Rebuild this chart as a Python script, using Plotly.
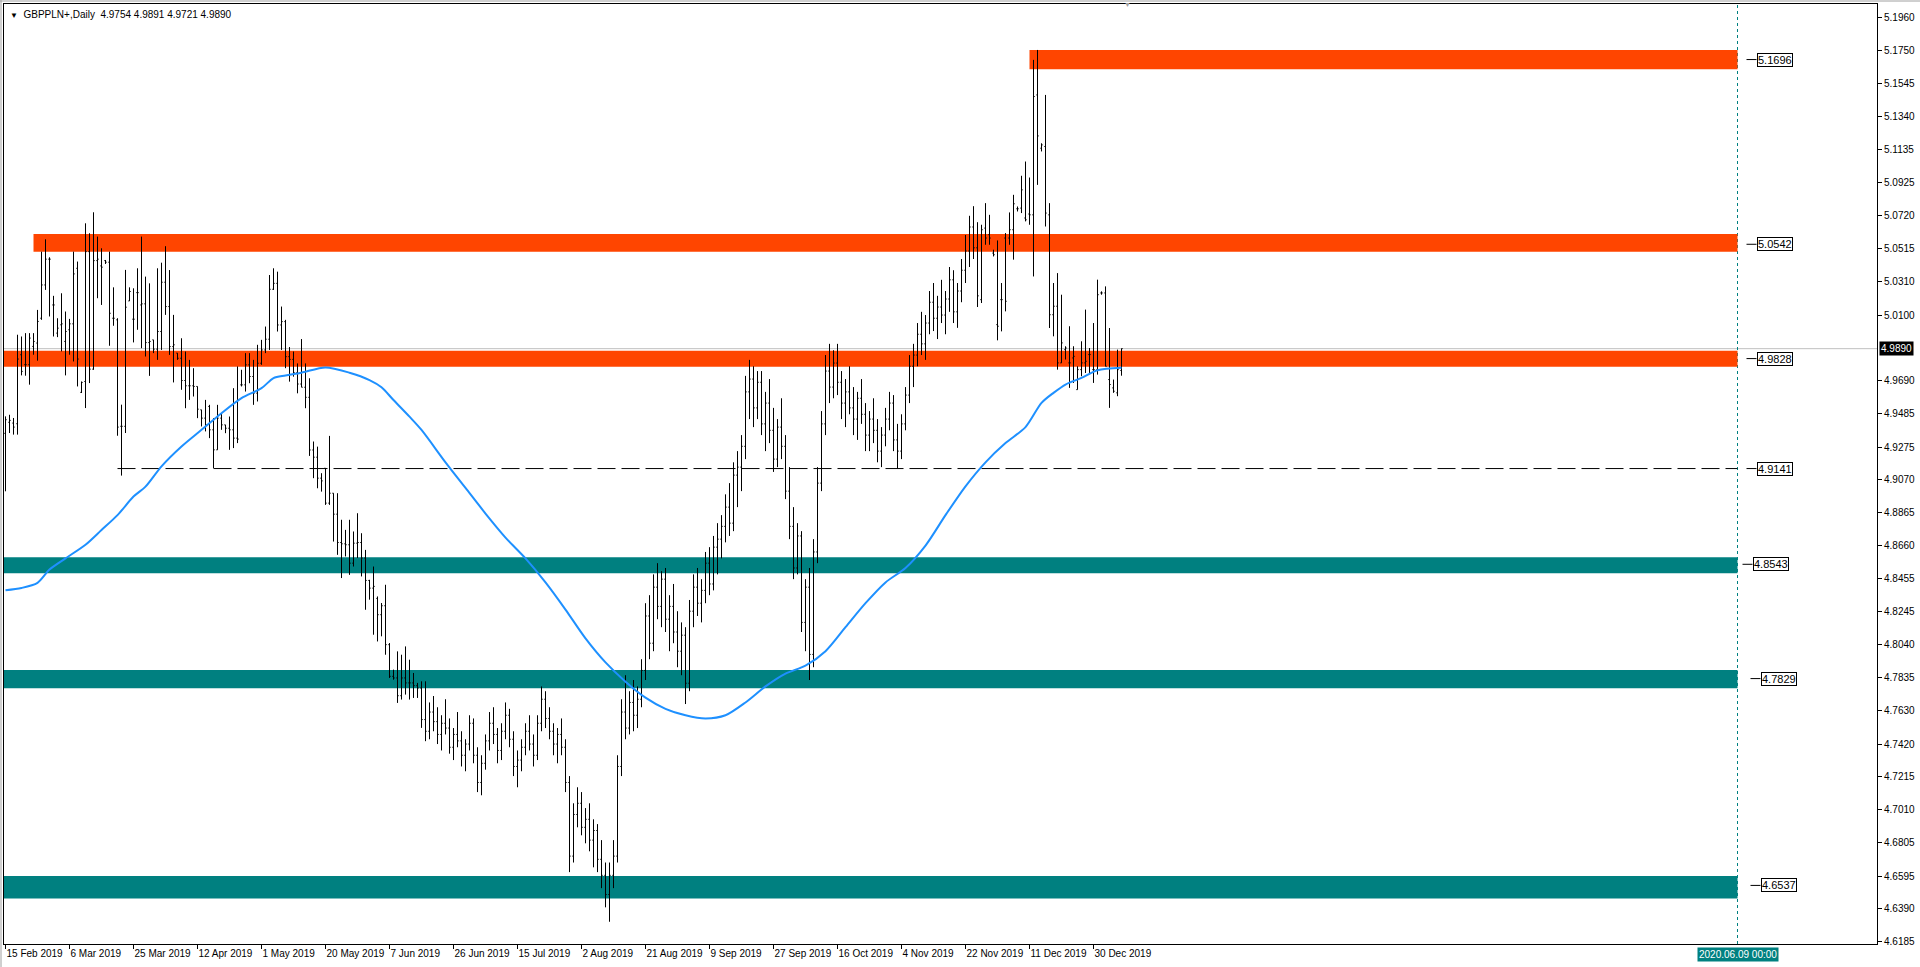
import plotly.graph_objects as go

# ---------------- data ----------------
bar_open = [
    4.9361, 4.9430, 4.9425, 4.9421, 4.9852, 4.9790, 4.9790, 4.9904, 4.9925, 5.0080,
    5.0288, 5.0449, 5.0163, 4.9987, 5.0039, 4.9935, 5.0008, 5.0045, 5.0392, 4.9617,
    4.9685, 5.0496, 4.9762, 5.0440, 5.0407, 5.0440, 5.0430, 5.0080, 5.0070, 4.9405,
    4.9405, 5.0188, 5.0074, 5.0240, 5.0163, 5.0170, 4.9928, 4.9945, 4.9887, 4.9997,
    5.0305, 5.0153, 4.9903, 4.9862, 4.9830, 4.9691, 4.9658, 4.9658, 4.9654, 4.9508,
    4.9456, 4.9529, 4.9383, 4.9258, 4.9456, 4.9414, 4.9393, 4.9383, 4.9331, 4.9664,
    4.9664, 4.9789, 4.9716, 4.9612, 4.9799, 4.9882, 4.9949, 5.0261, 5.0298, 5.0038,
    5.0059, 4.9840, 4.9823, 4.9740, 4.9669, 4.9649, 4.9586, 4.9257, 4.9212, 4.9081,
    4.9143, 4.8925, 4.8987, 4.8856, 4.8679, 4.8671, 4.8665, 4.8550, 4.8675, 4.8679,
    4.8582, 4.8442, 4.8394, 4.8330, 4.8228, 4.8284, 4.8041, 4.7843, 4.7833, 4.7722,
    4.7833, 4.7802, 4.7802, 4.7785, 4.7770, 4.7573, 4.750, 4.762, 4.756, 4.748,
    4.755, 4.752, 4.740, 4.748, 4.744, 4.735, 4.742, 4.755, 4.735, 4.718,
    4.730, 4.744, 4.755, 4.748, 4.738, 4.750, 4.760, 4.745, 4.728, 4.732,
    4.740, 4.750, 4.742, 4.735, 4.755, 4.770, 4.758, 4.750, 4.742, 4.748,
    4.740, 4.718, 4.672, 4.698, 4.705, 4.690, 4.695, 4.682, 4.688, 4.670,
    4.660, 4.648, 4.660, 4.672, 4.728, 4.762, 4.752, 4.768, 4.760, 4.770,
    4.788, 4.822, 4.805, 4.840, 4.828, 4.845, 4.820, 4.828, 4.812, 4.800,
    4.810, 4.780, 4.825, 4.840, 4.830, 4.838, 4.855, 4.842, 4.865, 4.870,
    4.878, 4.890, 4.880, 4.910, 4.915, 4.928, 4.962, 4.970, 4.952, 4.968,
    4.942, 4.955, 4.938, 4.920, 4.940, 4.928, 4.900, 4.878, 4.852, 4.872,
    4.818, 4.840, 4.798, 4.862, 4.905, 4.942, 4.975, 4.965, 4.980, 4.968,
    4.955, 4.962, 4.952, 4.945, 4.958, 4.948, 4.935, 4.945, 4.938, 4.925,
    4.935, 4.945, 4.955, 4.932, 4.925, 4.942, 4.960, 4.978, 4.985, 4.998,
    4.992, 5.005, 5.018, 5.008, 5.015, 5.010, 5.020, 5.032, 5.012, 5.025,
    5.038, 5.050, 5.065, 5.052, 5.0196, 5.0643, 5.0602, 5.0487, 5.0040, 5.0196,
    5.0581, 5.0581, 5.0633, 5.0764, 5.0768, 5.0706, 5.0731, 5.0726, 5.1475, 5.1142,
    5.1153, 5.0726, 5.0102, 5.0155, 4.9801, 4.9884, 4.9801, 4.9832, 4.9634, 4.9759,
    4.9801, 4.9853, 4.9759, 4.9759, 5.0238, 5.0238, 4.9697, 4.9645, 4.9614, 4.9754,
]
bar_high = [
    4.9467, 4.9477, 4.9457, 4.9977, 4.9966, 4.9987, 4.9987, 4.9987, 5.0132, 5.0496,
    5.0573, 5.0461, 5.0220, 5.0080, 5.0236, 5.0122, 5.0076, 5.0496, 5.0434, 4.9685,
    5.0673, 5.0611, 5.0742, 5.0590, 5.0517, 5.0444, 5.0496, 5.0273, 5.0080, 4.9540,
    5.0382, 5.0273, 5.0267, 5.0392, 5.0590, 5.0340, 5.0298, 4.9945, 5.0392, 5.0427,
    5.0530, 5.0381, 5.0101, 4.9862, 4.9955, 4.9872, 4.9820, 4.9768, 4.9654, 4.9508,
    4.9570, 4.9539, 4.9456, 4.9539, 4.9487, 4.9414, 4.9466, 4.9643, 4.9779, 4.9758,
    4.9862, 4.9862, 4.9820, 4.9914, 4.9945, 5.0028, 5.0350, 5.0392, 5.0371, 5.0153,
    5.0070, 4.9900, 4.9872, 4.9798, 4.9950, 4.9798, 4.9705, 4.9310, 4.9278, 4.9112,
    4.9143, 4.9345, 4.8987, 4.8987, 4.8821, 4.8758, 4.8821, 4.8748, 4.8862, 4.8737,
    4.8633, 4.8446, 4.8529, 4.8342, 4.8301, 4.8415, 4.8051, 4.7885, 4.7999, 4.7978,
    4.8030, 4.7947, 4.7864, 4.7802, 4.7812, 4.7812, 4.768, 4.772, 4.765, 4.760,
    4.770, 4.758, 4.752, 4.762, 4.750, 4.745, 4.760, 4.758, 4.740, 4.735,
    4.748, 4.762, 4.765, 4.752, 4.755, 4.768, 4.764, 4.750, 4.738, 4.745,
    4.755, 4.760, 4.748, 4.760, 4.778, 4.775, 4.765, 4.755, 4.752, 4.758,
    4.745, 4.722, 4.705, 4.715, 4.712, 4.702, 4.705, 4.695, 4.692, 4.682,
    4.668, 4.668, 4.682, 4.735, 4.770, 4.785, 4.775, 4.782, 4.778, 4.795,
    4.830, 4.835, 4.848, 4.855, 4.850, 4.852, 4.835, 4.842, 4.825, 4.818,
    4.815, 4.832, 4.848, 4.852, 4.845, 4.862, 4.865, 4.872, 4.880, 4.885,
    4.898, 4.905, 4.918, 4.925, 4.935, 4.972, 4.982, 4.978, 4.975, 4.975,
    4.962, 4.970, 4.952, 4.945, 4.958, 4.935, 4.915, 4.890, 4.880, 4.875,
    4.845, 4.852, 4.870, 4.915, 4.950, 4.985, 4.992, 4.988, 4.992, 4.975,
    4.970, 4.978, 4.965, 4.962, 4.970, 4.955, 4.950, 4.958, 4.945, 4.940,
    4.952, 4.962, 4.960, 4.942, 4.948, 4.965, 4.985, 4.992, 5.005, 5.012,
    5.010, 5.025, 5.030, 5.022, 5.032, 5.025, 5.040, 5.038, 5.030, 5.045,
    5.060, 5.072, 5.078, 5.068, 5.0664, 5.0799, 5.0726, 5.0508, 5.0566, 5.0300,
    5.0612, 5.0741, 5.0851, 5.0778, 5.0970, 5.1059, 5.0959, 5.1694, 5.1756, 5.1173,
    5.1475, 5.0799, 5.0300, 5.0362, 5.0227, 4.9905, 5.0030, 4.9905, 4.9780, 4.9936,
    5.0134, 4.9894, 5.0050, 5.0321, 5.0248, 5.0279, 5.0019, 4.9697, 4.9884, 4.9891,
]
bar_low = [
    4.8999, 4.9363, 4.9353, 4.9353, 4.9723, 4.9721, 4.9665, 4.9852, 4.9815, 5.0070,
    5.0257, 5.0091, 4.9966, 4.9962, 4.9873, 4.9723, 4.9852, 4.9810, 4.9654, 4.9613,
    4.9519, 4.9675, 4.9758, 5.0205, 5.0163, 5.0419, 4.9908, 5.0033, 4.9346, 4.9097,
    4.9363, 5.0188, 4.9929, 5.0008, 4.9893, 4.9841, 4.9720, 4.9862, 4.9820, 4.9882,
    5.0101, 4.9851, 4.9679, 4.9820, 4.9633, 4.9518, 4.9570, 4.9591, 4.9456, 4.9404,
    4.9373, 4.9331, 4.9144, 4.9258, 4.9383, 4.9362, 4.9258, 4.9269, 4.9300, 4.9654,
    4.9622, 4.9674, 4.9539, 4.9560, 4.9789, 4.9862, 4.9882, 5.0257, 4.9997, 4.9882,
    4.9768, 4.9684, 4.9715, 4.9611, 4.9649, 4.9518, 4.9220, 4.9081, 4.9018, 4.8997,
    4.8914, 4.8914, 4.8685, 4.8602, 4.8457, 4.8592, 4.8477, 4.8529, 4.8582, 4.8467,
    4.8259, 4.8322, 4.8103, 4.8061, 4.8093, 4.7978, 4.7833, 4.7822, 4.7677, 4.7698,
    4.7729, 4.7698, 4.7708, 4.7708, 4.7521, 4.7438, 4.745, 4.750, 4.742, 4.738,
    4.748, 4.736, 4.732, 4.740, 4.728, 4.725, 4.738, 4.730, 4.712, 4.710,
    4.726, 4.738, 4.742, 4.730, 4.732, 4.745, 4.740, 4.722, 4.715, 4.725,
    4.735, 4.738, 4.728, 4.732, 4.750, 4.752, 4.745, 4.735, 4.730, 4.735,
    4.712, 4.662, 4.668, 4.690, 4.685, 4.680, 4.675, 4.665, 4.662, 4.652,
    4.640, 4.631, 4.652, 4.668, 4.722, 4.745, 4.748, 4.750, 4.752, 4.765,
    4.782, 4.795, 4.800, 4.820, 4.815, 4.812, 4.800, 4.805, 4.790, 4.785,
    4.767, 4.775, 4.815, 4.822, 4.818, 4.830, 4.835, 4.838, 4.848, 4.858,
    4.868, 4.872, 4.875, 4.890, 4.900, 4.920, 4.945, 4.940, 4.945, 4.935,
    4.925, 4.930, 4.912, 4.915, 4.920, 4.895, 4.870, 4.845, 4.848, 4.812,
    4.800, 4.782, 4.790, 4.855, 4.900, 4.935, 4.955, 4.958, 4.960, 4.945,
    4.940, 4.948, 4.935, 4.932, 4.942, 4.925, 4.925, 4.930, 4.918, 4.915,
    4.928, 4.938, 4.925, 4.914, 4.920, 4.938, 4.955, 4.965, 4.978, 4.985,
    4.982, 4.998, 5.000, 4.995, 5.005, 4.998, 5.012, 5.005, 5.002, 5.018,
    5.030, 5.040, 5.045, 5.015, 5.0175, 5.0539, 5.0539, 5.0466, 4.9942, 4.9998,
    5.0123, 5.0539, 5.0446, 5.0747, 5.0737, 5.0685, 5.0664, 5.0341, 5.0913, 5.1122,
    5.0653, 5.0019, 4.9967, 4.9759, 4.9801, 4.9822, 4.9645, 4.9676, 4.9634, 4.9718,
    4.9738, 4.9738, 4.9676, 4.9728, 5.0227, 4.9780, 4.9520, 4.9614, 4.9593, 4.9721,
]
bar_close = [
    4.9446, 4.9442, 4.9400, 4.9825, 4.9748, 4.9790, 4.9956, 4.9935, 5.0060, 5.0288,
    5.0449, 5.0449, 5.0163, 5.0018, 5.0045, 4.9997, 5.0045, 5.0357, 4.9825, 4.9679,
    5.0496, 4.9762, 5.0440, 5.0449, 5.0399, 5.0430, 5.0111, 5.0080, 4.9400, 4.9405,
    5.0149, 5.0247, 5.0074, 5.0240, 5.0170, 4.9928, 4.9935, 4.9887, 4.9997, 5.0305,
    5.0153, 4.9903, 4.9914, 4.9830, 4.9691, 4.9658, 4.9658, 4.9654, 4.9512, 4.9456,
    4.9414, 4.9383, 4.9258, 4.9456, 4.9414, 4.9393, 4.9383, 4.9331, 4.9325, 4.9664,
    4.9789, 4.9716, 4.9612, 4.9799, 4.9882, 4.9949, 5.0261, 5.0298, 5.0038, 5.0059,
    4.9840, 4.9823, 4.9740, 4.9669, 4.9649, 4.9586, 4.9257, 4.9212, 4.9081, 4.9064,
    4.8925, 4.8987, 4.8856, 4.8679, 4.8671, 4.8665, 4.8550, 4.8675, 4.8679, 4.8582,
    4.8442, 4.8394, 4.8405, 4.8228, 4.8284, 4.8041, 4.7843, 4.7833, 4.7722, 4.7833,
    4.7802, 4.7802, 4.7785, 4.7770, 4.7573, 4.7500, 4.762, 4.756, 4.748, 4.755,
    4.752, 4.740, 4.748, 4.744, 4.735, 4.742, 4.755, 4.735, 4.718, 4.730,
    4.744, 4.755, 4.748, 4.738, 4.750, 4.760, 4.745, 4.728, 4.732, 4.740,
    4.750, 4.742, 4.735, 4.755, 4.770, 4.758, 4.750, 4.742, 4.748, 4.740,
    4.718, 4.672, 4.698, 4.705, 4.690, 4.695, 4.682, 4.688, 4.670, 4.660,
    4.648, 4.660, 4.672, 4.728, 4.762, 4.752, 4.768, 4.760, 4.770, 4.788,
    4.822, 4.805, 4.840, 4.828, 4.845, 4.820, 4.828, 4.812, 4.800, 4.810,
    4.780, 4.825, 4.840, 4.830, 4.838, 4.855, 4.842, 4.865, 4.870, 4.878,
    4.890, 4.880, 4.910, 4.915, 4.928, 4.962, 4.970, 4.952, 4.968, 4.942,
    4.955, 4.938, 4.920, 4.940, 4.928, 4.900, 4.878, 4.852, 4.872, 4.818,
    4.840, 4.798, 4.862, 4.905, 4.942, 4.975, 4.965, 4.980, 4.968, 4.955,
    4.962, 4.952, 4.945, 4.958, 4.948, 4.935, 4.945, 4.938, 4.925, 4.935,
    4.945, 4.955, 4.932, 4.925, 4.942, 4.960, 4.978, 4.985, 4.998, 4.992,
    5.005, 5.018, 5.008, 5.015, 5.010, 5.020, 5.032, 5.012, 5.025, 5.038,
    5.050, 5.065, 5.052, 5.022, 5.0633, 5.0581, 5.0581, 5.0477, 5.0030, 5.0196,
    5.0186, 5.0633, 5.0795, 5.0764, 5.0882, 5.0695, 5.0726, 5.1465, 5.1219, 5.1163,
    5.0737, 5.0102, 5.0155, 4.9801, 4.9926, 4.9894, 4.9801, 4.9842, 4.9759, 4.9801,
    4.9811, 4.9853, 4.9759, 5.0227, 5.0238, 4.9780, 4.9666, 4.9624, 4.9759, 4.9890,
]
assert len(bar_open) == len(bar_high) == len(bar_low) == len(bar_close) == 280
bar_index = list(range(len(bar_open)))

# moving average (blue line), read at selected bars
ma_index = [0, 4, 8, 11, 15, 20, 24, 28, 32, 35, 39, 44, 49, 54, 59, 64, 67, 70, 74, 80,
            86, 91, 94, 97, 101, 104, 110, 115, 120, 125, 130, 135, 140, 145, 150, 155,
            160, 165, 170, 175, 180, 185, 190, 195, 200, 205, 210, 215, 220, 225, 230,
            235, 240, 245, 250, 255, 259, 262, 265, 269, 273, 279]
ma_value = [4.8381, 4.8395, 4.8427, 4.8510, 4.8580, 4.8665, 4.8757, 4.8850, 4.8966, 4.9028,
            4.9155, 4.9279, 4.9383, 4.9487, 4.9581, 4.9643, 4.9706, 4.9722, 4.9740, 4.9773,
            4.9740, 4.9694, 4.9649, 4.9569, 4.9465, 4.9382, 4.918, 4.902, 4.886, 4.871,
            4.858, 4.843, 4.826, 4.808, 4.793, 4.781, 4.771, 4.764, 4.760, 4.758,
            4.760, 4.768, 4.778, 4.786, 4.791, 4.800, 4.815, 4.830, 4.843, 4.852,
            4.866, 4.885, 4.903, 4.918, 4.930, 4.940, 4.9551, 4.9614, 4.9666, 4.9707,
            4.9755, 4.9770]

# time axis labels (one every 16 bars)
date_ticks = [0, 16, 32, 48, 64, 80, 96, 112, 128, 144, 160, 176, 192, 208, 224, 240, 256, 272]
date_labels = ["15 Feb 2019", "6 Mar 2019", "25 Mar 2019", "12 Apr 2019", "1 May 2019",
               "20 May 2019", "7 Jun 2019", "26 Jun 2019", "15 Jul 2019", "2 Aug 2019",
               "21 Aug 2019", "9 Sep 2019", "27 Sep 2019", "16 Oct 2019", "4 Nov 2019",
               "22 Nov 2019", "11 Dec 2019", "30 Dec 2019"]

# price axis labels
price_ticks = [5.1960, 5.1750, 5.1545, 5.1340, 5.1135, 5.0925, 5.0720, 5.0515, 5.0310, 5.0100,
               4.9690, 4.9485, 4.9275, 4.9070, 4.8865, 4.8660, 4.8455, 4.8245, 4.8040,
               4.7835, 4.7630, 4.7420, 4.7215, 4.7010, 4.6805, 4.6595, 4.6390, 4.6185]

# supply / demand zones
zone_low = [5.1635, 5.0496, 4.9777, 4.8487, 4.7768, 4.6456]
zone_high = [5.1756, 5.0606, 4.9877, 4.8587, 4.7882, 4.6596]
zone_start = [256.0, 7.0, -0.375, -0.375, -0.375, -0.375]
zone_label = ["5.1696", "5.0542", "4.9828", "4.8543", "4.7829", "4.6537"]
zone_kind = ["resistance", "resistance", "resistance", "support", "support", "support"]

support_line_price = 4.9141
support_line_start = 28.0
last_price = 4.9890
future_bar = 433
future_label = "2020.06.09 00:00"
title_text = "GBPPLN+,Daily\u00a0\u00a04.9754 4.9891 4.9721 4.9890"

# ---------------- styling ----------------
FONT = "Liberation Sans, Arial, sans-serif"
ORANGE = "#FF4500"
TEAL = "#008080"
zone_color = {"resistance": ORANGE, "support": TEAL}
label_offset_px = [0, 0, 0, -4, 4, 4]

# half-pixel offset so 1px bar lines fall on pixel centres (crisper bars)
X_RANGE = [-0.375, 467.875]
Y_RANGE = [4.6171, 5.2043]
PX_PER_BAR = 4.0

fig = go.Figure()

fig.add_trace(go.Ohlc(
    x=bar_index, open=bar_open, high=bar_high, low=bar_low, close=bar_close,
    increasing=dict(line=dict(color="black", width=1)),
    decreasing=dict(line=dict(color="black", width=1)),
    tickwidth=0.3, hoverinfo="skip", showlegend=False,
))

fig.add_trace(go.Scatter(
    x=ma_index, y=ma_value, mode="lines",
    line=dict(color="#1E90FF", width=2, shape="spline", smoothing=0.8),
    hoverinfo="skip", showlegend=False,
))

shapes = []
annotations = []

# zones
for lo, hi, x0, kind in zip(zone_low, zone_high, zone_start, zone_kind):
    shapes.append(dict(type="rect", xref="x", yref="y", x0=x0, x1=future_bar, y0=lo, y1=hi,
                       fillcolor=zone_color[kind], line=dict(width=0), layer="below"))

# dashed support line
shapes.append(dict(type="line", xref="x", yref="y", x0=support_line_start, x1=future_bar,
                   y0=support_line_price, y1=support_line_price,
                   line=dict(color="black", width=1, dash="18px,6px"), layer="below"))

# current price line
shapes.append(dict(type="line", xref="paper", yref="y", x0=0, x1=1,
                   y0=last_price, y1=last_price,
                   line=dict(color="#C0C0C0", width=1), layer="below"))

# vertical future line
shapes.append(dict(type="line", xref="x", yref="paper", x0=future_bar, x1=future_bar,
                   y0=0, y1=1, line=dict(color=TEAL, width=1, dash="3px,3px"), layer="below"))

# right-hand price labels with leader lines
label_prices = [float(t) for t in zone_label] + [support_line_price]
label_texts = zone_label + ["%.4f" % support_line_price]
label_offsets = label_offset_px + [0]
for price, text, off in zip(label_prices, label_texts, label_offsets):
    x_lead0 = future_bar + (9 + off) / PX_PER_BAR
    x_lead1 = future_bar + (19 + off) / PX_PER_BAR
    shapes.append(dict(type="line", xref="x", yref="y", x0=x_lead0, x1=x_lead1,
                       y0=price, y1=price, line=dict(color="black", width=1)))
    annotations.append(dict(xref="x", yref="y", x=x_lead1, y=price, text=text,
                            xanchor="left", yanchor="middle", showarrow=False,
                            bgcolor="white", bordercolor="black", borderwidth=1, borderpad=0,
                            font=dict(family=FONT, size=11, color="black")))

# current price tag on the axis
annotations.append(dict(xref="paper", yref="y", x=1, y=last_price, text="%.4f" % last_price,
                        xanchor="left", yanchor="middle", xshift=2, showarrow=False,
                        bgcolor="black", borderpad=1,
                        font=dict(family=FONT, size=10, color="white")))

# future date tag on the time axis
annotations.append(dict(xref="x", yref="paper", x=future_bar, y=0, text=future_label,
                        xanchor="center", yanchor="top", yshift=-3, showarrow=False,
                        bgcolor=TEAL, borderpad=1,
                        font=dict(family=FONT, size=10, color="white")))

# chart title
annotations.append(dict(xref="paper", yref="paper", x=0, y=1, xanchor="left", yanchor="top",
                        xshift=4, yshift=-3, showarrow=False,
                        text="<span style='font-size:8px'>\u25BC</span>\u00a0\u00a0" + title_text,
                        font=dict(family=FONT, size=10, color="black")))

# chart shift marker at the top
annotations.append(dict(xref="x", yref="paper", x=len(bar_open) + 0.5, y=1, text="\u25BC",
                        xanchor="center", yanchor="middle", showarrow=False,
                        font=dict(family=FONT, size=7, color="#A0A0A0")))

# thin window frame (grey) on the page edges
shapes.append(dict(type="line", xref="paper", yref="paper", x0=-3 / 1873, x1=-3 / 1873,
                   y0=-23 / 940, y1=1 + 4 / 940, line=dict(color="#A0A0A0", width=1)))
shapes.append(dict(type="line", xref="paper", yref="paper", x0=-4 / 1873, x1=1 + 43 / 1873,
                   y0=1 + 3 / 940, y1=1 + 3 / 940, line=dict(color="#A0A0A0", width=1)))

fig.update_layout(
    width=1920, height=967,
    margin=dict(l=4, r=43, t=4, b=23, pad=0, autoexpand=False),
    paper_bgcolor="white", plot_bgcolor="white",
    font=dict(family=FONT, size=10, color="black"),
    showlegend=False,
    shapes=shapes, annotations=annotations,
    xaxis=dict(range=X_RANGE, showgrid=False, zeroline=False,
               showline=True, linecolor="black", linewidth=1, mirror=True,
               tickmode="array", tickvals=date_ticks, ticktext=date_labels,
               ticks="outside", ticklen=4, tickcolor="black", tickwidth=1,
               ticklabelposition="outside right", tickangle=0,
               tickfont=dict(family=FONT, size=10, color="black"),
               rangeslider=dict(visible=False), fixedrange=True, automargin=False),
    yaxis=dict(range=Y_RANGE, side="right", showgrid=False, zeroline=False,
               showline=True, linecolor="black", linewidth=1, mirror=True,
               tickmode="array", tickvals=price_ticks,
               ticktext=["%.4f" % v for v in price_ticks],
               ticks="outside", ticklen=4, tickcolor="black", tickwidth=1,
               tickfont=dict(family=FONT, size=10, color="black"), fixedrange=True,
               automargin=False),
)

fig.write_html(
    "out.html",
    config={"displayModeBar": False, "staticPlot": False},
    post_script="document.body.style.margin='0px';document.body.style.overflow='hidden';",
)
